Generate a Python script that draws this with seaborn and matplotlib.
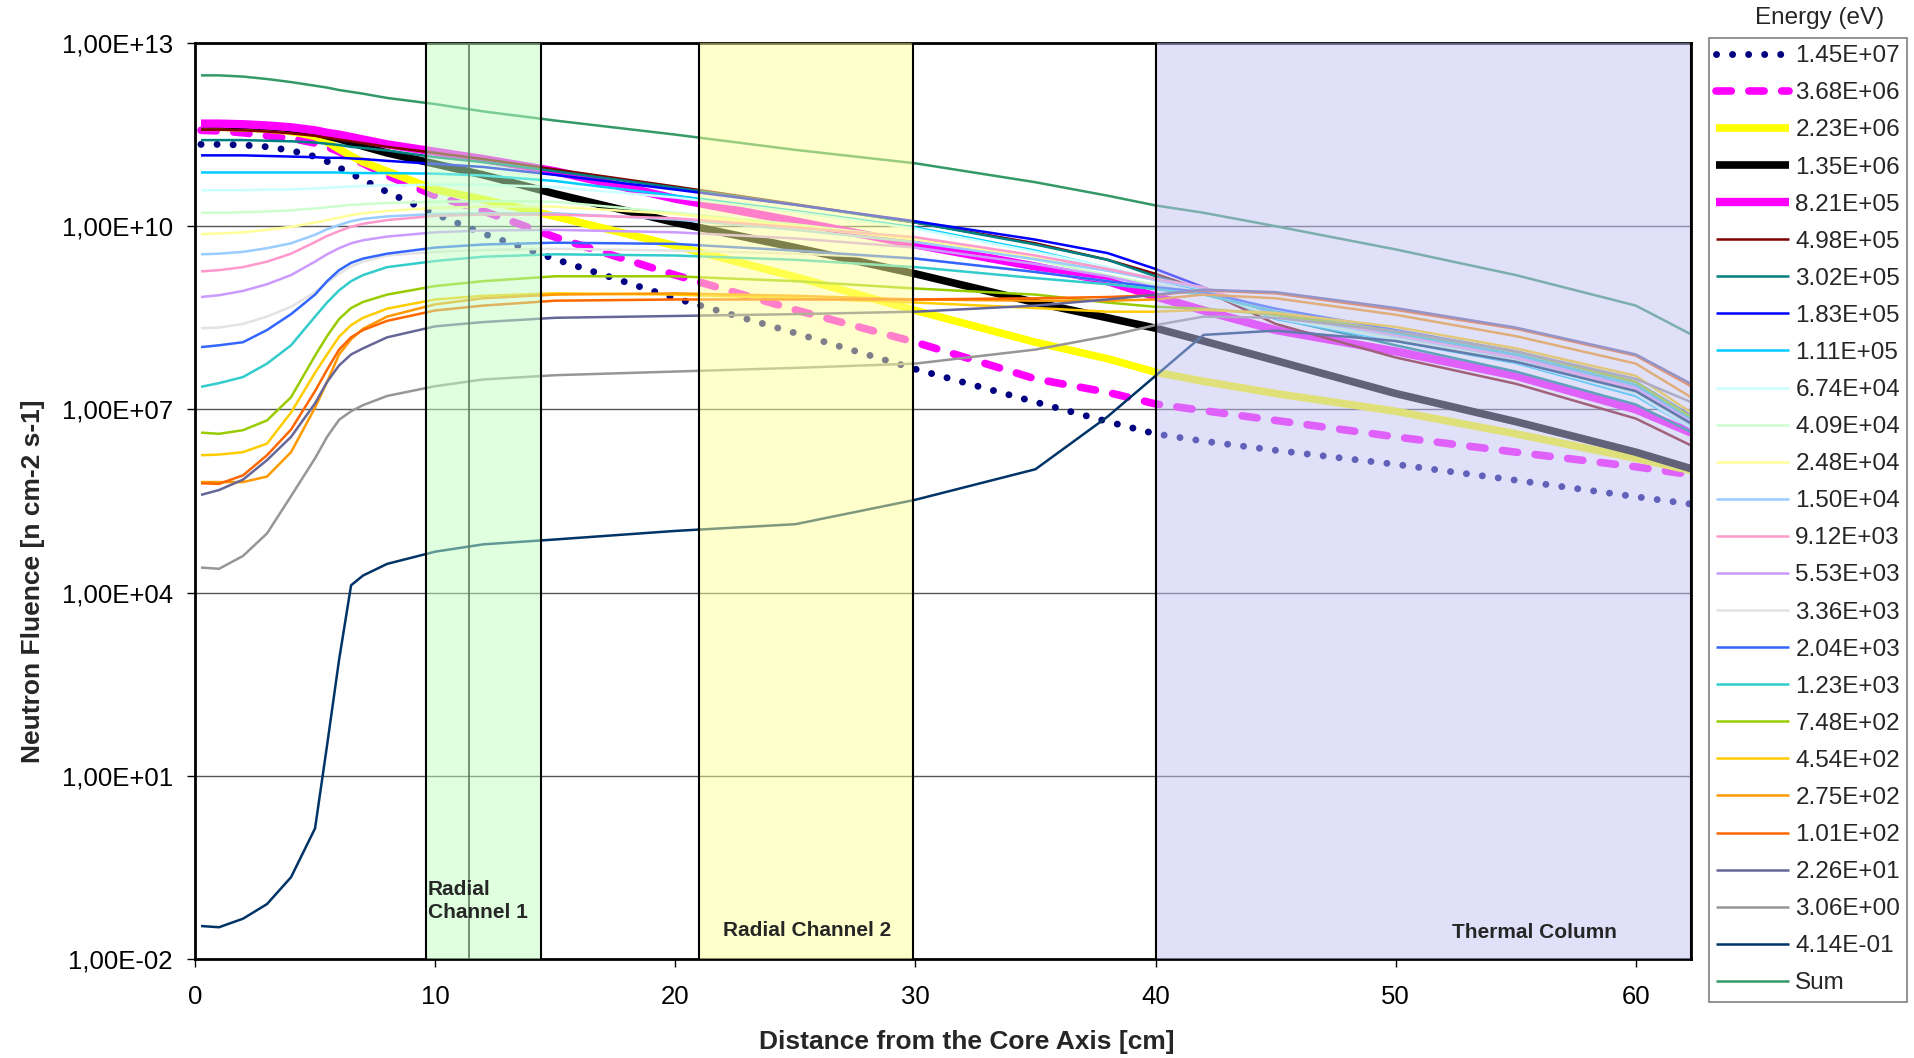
import numpy as np
import pandas as pd
import seaborn as sns
import matplotlib.pyplot as plt
from matplotlib.ticker import FixedLocator, FuncFormatter

# distance from the core axis [cm]
distance = [0.25, 1, 2, 3, 4, 5, 5.5, 6, 6.5, 7, 8, 10, 12, 15, 20, 25, 30, 35, 38, 40, 42, 45, 50, 55, 60, 62.3]

# log10 of the neutron fluence, one list per energy group
e_1_45e07 = [11.34, 11.34, 11.33, 11.30, 11.24, 11.14, 11.06, 10.96, 10.86, 10.76, 10.56, 10.20, 9.88, 9.46, 8.82, 8.25, 7.66, 7.12, 6.80, 6.60, 6.48, 6.33, 6.10, 5.84, 5.57, 5.45]
e_3_68e06 = [11.57, 11.56, 11.53, 11.48, 11.44, 11.36, 11.30, 11.22, 11.12, 11.03, 10.83, 10.50, 10.25, 9.82, 9.20, 8.63, 8.10, 7.50, 7.28, 7.09, 6.98, 6.82, 6.55, 6.30, 6.06, 5.93]
e_2_23e06 = [11.62, 11.62, 11.61, 11.59, 11.55, 11.47, 11.38, 11.26, 11.15, 11.05, 10.90, 10.60, 10.44, 10.16, 9.68, 9.17, 8.62, 8.10, 7.83, 7.61, 7.46, 7.26, 6.97, 6.60, 6.20, 6.00]
e_1_35e06 = [11.66, 11.66, 11.65, 11.63, 11.60, 11.53, 11.48, 11.43, 11.37, 11.31, 11.20, 11.02, 10.84, 10.53, 10.06, 9.65, 9.22, 8.75, 8.50, 8.33, 8.12, 7.80, 7.26, 6.80, 6.30, 6.03]
e_8_21e05 = [11.68, 11.68, 11.67, 11.65, 11.62, 11.57, 11.53, 11.50, 11.46, 11.42, 11.34, 11.22, 11.10, 10.90, 10.45, 10.08, 9.70, 9.34, 9.10, 8.85, 8.62, 8.30, 7.95, 7.55, 7.00, 6.62]
e_4_98e05 = [11.58, 11.58, 11.57, 11.55, 11.52, 11.48, 11.45, 11.42, 11.39, 11.36, 11.30, 11.20, 11.10, 10.93, 10.65, 10.36, 10.06, 9.72, 9.45, 9.22, 8.95, 8.40, 7.85, 7.42, 6.85, 6.41]
e_3_02e05 = [11.41, 11.41, 11.41, 11.40, 11.39, 11.37, 11.35, 11.33, 11.30, 11.28, 11.24, 11.13, 11.05, 10.90, 10.63, 10.35, 10.06, 9.70, 9.45, 9.18, 8.95, 8.50, 8.05, 7.62, 7.08, 6.63]
e_1_83e05 = [11.16, 11.16, 11.16, 11.15, 11.14, 11.13, 11.12, 11.12, 11.11, 11.10, 11.07, 11.02, 10.97, 10.84, 10.60, 10.35, 10.08, 9.78, 9.56, 9.30, 9.00, 8.52, 8.15, 7.80, 7.30, 6.72]
e_1_11e05 = [10.88, 10.88, 10.88, 10.88, 10.88, 10.88, 10.88, 10.88, 10.87, 10.87, 10.87, 10.86, 10.83, 10.74, 10.50, 10.25, 9.98, 9.60, 9.32, 9.12, 8.95, 8.48, 8.12, 7.76, 7.22, 6.70]
e_6_74e04 = [10.59, 10.59, 10.59, 10.60, 10.60, 10.62, 10.63, 10.64, 10.65, 10.66, 10.67, 10.68, 10.68, 10.64, 10.47, 10.23, 9.96, 9.58, 9.33, 9.14, 8.97, 8.50, 8.14, 7.78, 7.25, 6.70]
e_4_09e04 = [10.22, 10.22, 10.23, 10.24, 10.26, 10.29, 10.31, 10.33, 10.35, 10.36, 10.38, 10.40, 10.41, 10.40, 10.22, 10.03, 9.80, 9.45, 9.20, 9.04, 8.92, 8.52, 8.16, 7.80, 7.28, 6.75]
e_2_48e04 = [9.87, 9.88, 9.90, 9.94, 9.99, 10.06, 10.10, 10.14, 10.18, 10.21, 10.25, 10.30, 10.32, 10.32, 10.20, 10.00, 9.78, 9.48, 9.27, 9.12, 8.98, 8.58, 8.22, 7.86, 7.32, 6.80]
e_1_50e04 = [9.54, 9.55, 9.58, 9.64, 9.72, 9.86, 9.95, 10.02, 10.08, 10.12, 10.16, 10.20, 10.21, 10.21, 10.11, 9.94, 9.74, 9.46, 9.27, 9.12, 8.98, 8.56, 8.20, 7.84, 7.30, 6.78]
e_9_12e03 = [9.26, 9.28, 9.33, 9.42, 9.55, 9.74, 9.84, 9.92, 9.99, 10.04, 10.10, 10.17, 10.19, 10.19, 10.13, 9.98, 9.82, 9.52, 9.30, 9.14, 9.00, 8.58, 8.22, 7.85, 7.32, 6.78]
e_5_53e03 = [8.84, 8.87, 8.94, 9.05, 9.20, 9.42, 9.54, 9.64, 9.72, 9.77, 9.83, 9.90, 9.93, 9.94, 9.90, 9.80, 9.65, 9.38, 9.18, 9.00, 8.92, 8.60, 8.25, 7.88, 7.36, 6.82]
e_3_36e03 = [8.33, 8.34, 8.40, 8.52, 8.68, 8.92, 9.08, 9.22, 9.34, 9.42, 9.52, 9.58, 9.61, 9.63, 9.60, 9.55, 9.47, 9.25, 9.10, 8.96, 8.90, 8.62, 8.28, 7.92, 7.42, 6.88]
e_2_04e03 = [8.02, 8.05, 8.10, 8.30, 8.56, 8.88, 9.10, 9.28, 9.40, 9.47, 9.55, 9.65, 9.70, 9.73, 9.71, 9.60, 9.47, 9.25, 9.10, 9.00, 8.92, 8.65, 8.30, 7.95, 7.45, 6.90]
e_1_23e03 = [7.37, 7.43, 7.53, 7.75, 8.05, 8.52, 8.75, 8.95, 9.10, 9.20, 9.33, 9.43, 9.50, 9.54, 9.52, 9.45, 9.33, 9.15, 9.05, 8.97, 8.88, 8.60, 8.25, 7.90, 7.40, 6.85]
e_7_48e02 = [6.62, 6.60, 6.66, 6.82, 7.20, 7.88, 8.20, 8.48, 8.66, 8.76, 8.88, 9.02, 9.10, 9.18, 9.18, 9.10, 8.98, 8.88, 8.75, 8.68, 8.65, 8.55, 8.28, 7.95, 7.45, 6.88]
e_4_54e02 = [6.25, 6.26, 6.30, 6.44, 6.95, 7.60, 7.90, 8.19, 8.38, 8.50, 8.65, 8.80, 8.86, 8.90, 8.88, 8.82, 8.75, 8.66, 8.60, 8.60, 8.63, 8.58, 8.35, 8.00, 7.55, 6.95]
e_2_75e02 = [5.81, 5.81, 5.81, 5.90, 6.30, 7.03, 7.45, 7.90, 8.15, 8.32, 8.52, 8.72, 8.82, 8.88, 8.90, 8.86, 8.80, 8.78, 8.78, 8.80, 8.88, 8.82, 8.55, 8.20, 7.75, 7.20]
e_1_01e02 = [5.79, 5.78, 5.92, 6.25, 6.67, 7.30, 7.65, 7.98, 8.18, 8.30, 8.45, 8.62, 8.70, 8.78, 8.80, 8.80, 8.80, 8.82, 8.84, 8.87, 8.95, 8.90, 8.63, 8.32, 7.88, 7.38]
e_2_26e01 = [5.60, 5.68, 5.85, 6.17, 6.55, 7.10, 7.45, 7.72, 7.90, 8.00, 8.18, 8.36, 8.43, 8.50, 8.53, 8.56, 8.60, 8.70, 8.80, 8.88, 8.96, 8.92, 8.66, 8.34, 7.90, 7.42]
e_3_06e00 = [4.41, 4.39, 4.60, 4.97, 5.58, 6.20, 6.55, 6.83, 6.97, 7.07, 7.22, 7.38, 7.49, 7.56, 7.62, 7.68, 7.75, 7.98, 8.20, 8.38, 8.52, 8.50, 8.28, 7.95, 7.50, 7.12]
e_4_14e_01 = [-1.46, -1.48, -1.34, -1.10, -0.66, 0.14, 1.50, 2.90, 4.12, 4.28, 4.47, 4.67, 4.79, 4.87, 5.01, 5.12, 5.52, 6.02, 6.88, 7.55, 8.22, 8.29, 8.12, 7.78, 7.30, 6.77]
e_sum = [12.47, 12.47, 12.45, 12.41, 12.36, 12.30, 12.27, 12.23, 12.20, 12.17, 12.10, 12.00, 11.88, 11.73, 11.50, 11.25, 11.03, 10.72, 10.50, 10.34, 10.22, 10.00, 9.62, 9.20, 8.70, 8.23]

labels = ['1.45E+07', '3.68E+06', '2.23E+06', '1.35E+06', '8.21E+05', '4.98E+05', '3.02E+05',
          '1.83E+05', '1.11E+05', '6.74E+04', '4.09E+04', '2.48E+04', '1.50E+04', '9.12E+03',
          '5.53E+03', '3.36E+03', '2.04E+03', '1.23E+03', '7.48E+02', '4.54E+02', '2.75E+02',
          '1.01E+02', '2.26E+01', '3.06E+00', '4.14E-01', 'Sum']
series = [e_1_45e07, e_3_68e06, e_2_23e06, e_1_35e06, e_8_21e05, e_4_98e05, e_3_02e05,
          e_1_83e05, e_1_11e05, e_6_74e04, e_4_09e04, e_2_48e04, e_1_50e04, e_9_12e03,
          e_5_53e03, e_3_36e03, e_2_04e03, e_1_23e03, e_7_48e02, e_4_54e02, e_2_75e02,
          e_1_01e02, e_2_26e01, e_3_06e00, e_4_14e_01, e_sum]

colors = ['#000080', '#FF00FF', '#FFFF00', '#000000', '#FF00FF', '#800000', '#008080',
          '#0000FF', '#00CCFF', '#CCFFFF', '#CCFFCC', '#FFFF99', '#99CCFF', '#FF99CC',
          '#CC99FF', '#E3E3E3', '#3366FF', '#33CCCC', '#99CC00', '#FFCC00', '#FF9900',
          '#FF6600', '#666699', '#969696', '#003366', '#339966']
widths = [5, 5.5, 5.5, 5.5, 6] + [1.8] * 21
styles = [(0, (0.01, 2.3)), (0, (2.0, 2.3))] + ['-'] * 24

# regions along the radius
regions = [(9.6, 14.4, '#C1FFC1'), (21.0, 29.9, '#FFFF99'), (40.0, 62.3, '#C3C3F5')]

rows = []
for lab, vals in zip(labels, series):
    for d, v in zip(distance, vals):
        rows.append({'Distance': d, 'Fluence': 10.0 ** v, 'Energy': lab})
df = pd.DataFrame(rows)

sns.set_style("white")
plt.rcParams['font.family'] = ['Liberation Sans', 'DejaVu Sans']

fig = plt.figure(figsize=(19.15, 10.58), dpi=100)
ax = fig.add_axes([195 / 1915, 1 - 959 / 1058, (1691 - 195) / 1915, (959 - 43) / 1058])

for lab, col, lw, ls in zip(labels, colors, widths, styles):
    sub = df[df['Energy'] == lab]
    sns.lineplot(data=sub, x='Distance', y='Fluence', ax=ax, color=col, lw=lw,
                 linestyle=ls, label=lab, dash_capstyle='round', solid_capstyle='butt')

ax.set_yscale('log')
ax.set_ylim(1e-2, 1e13)
ax.set_xlim(0, 62.3)
ax.yaxis.set_major_locator(FixedLocator([1e-2, 1e1, 1e4, 1e7, 1e10, 1e13]))
ax.yaxis.set_minor_locator(FixedLocator([]))
ax.yaxis.set_major_formatter(FuncFormatter(lambda v, p: f"{v:.2E}".replace('.', ',')))
ax.set_xticks([0, 10, 20, 30, 40, 50, 60])
ax.grid(axis='y', color='#555555', lw=1)
ax.set_axisbelow(True)

ax.axvline(11.4, color='black', lw=1.2, zorder=2.5)
for x0, x1, c in regions:
    ax.axvspan(x0, x1, facecolor=c, alpha=0.5, edgecolor='none', zorder=3)
    ax.axvline(x0, color='black', lw=1.5, zorder=3.1)
    ax.axvline(x1, color='black', lw=1.5, zorder=3.1)

ax.text(9.7, 10 ** -1.05, 'Radial\nChannel 1', fontsize=15, fontweight='bold',
        ha='left', va='center', zorder=4, linespacing=1.25)
ax.text(25.5, 10 ** -1.53, 'Radial Channel 2', fontsize=15, fontweight='bold',
        ha='center', va='center', zorder=4)
ax.text(55.8, 10 ** -1.57, 'Thermal Column', fontsize=15, fontweight='bold',
        ha='center', va='center', zorder=4)

for s in ax.spines.values():
    s.set_color('black')
    s.set_linewidth(2)
ax.tick_params(axis='both', direction='out', length=6, width=1, colors='black',
               labelsize=18.5, left=True, bottom=True)
ax.tick_params(axis='y', pad=10)
ax.tick_params(axis='x', pad=13)

ax.set_xlabel('Distance from the Core Axis [cm]', fontsize=19, fontweight='bold')
ax.set_ylabel('Neutron Fluence [n cm-2 s-1]', fontsize=19, fontweight='bold')
ax.xaxis.set_label_coords(0.516, -0.0906)
ax.xaxis.label.set_va('center')
ax.yaxis.set_label_coords(-0.1083, 0.4127)
ax.yaxis.label.set_va('center')

handles, labs = ax.get_legend_handles_labels()
leg = ax.legend(handles, labs, loc='upper left', bbox_to_anchor=(1709 / 1915, 1 - 38 / 1058),
                bbox_transform=fig.transFigure, borderaxespad=0, fontsize=17.5,
                handlelength=3.0, handletextpad=0.25, labelspacing=0.62, borderpad=0.3,
                frameon=True, fancybox=False, framealpha=1, edgecolor='#7f7f7f')
leg.get_frame().set_linewidth(1.2)
fig.text(1820 / 1915, 1 - 18 / 1058, 'Energy (eV)', fontsize=17.5, ha='center', va='center')

fig.savefig('out.png', dpi=100)
